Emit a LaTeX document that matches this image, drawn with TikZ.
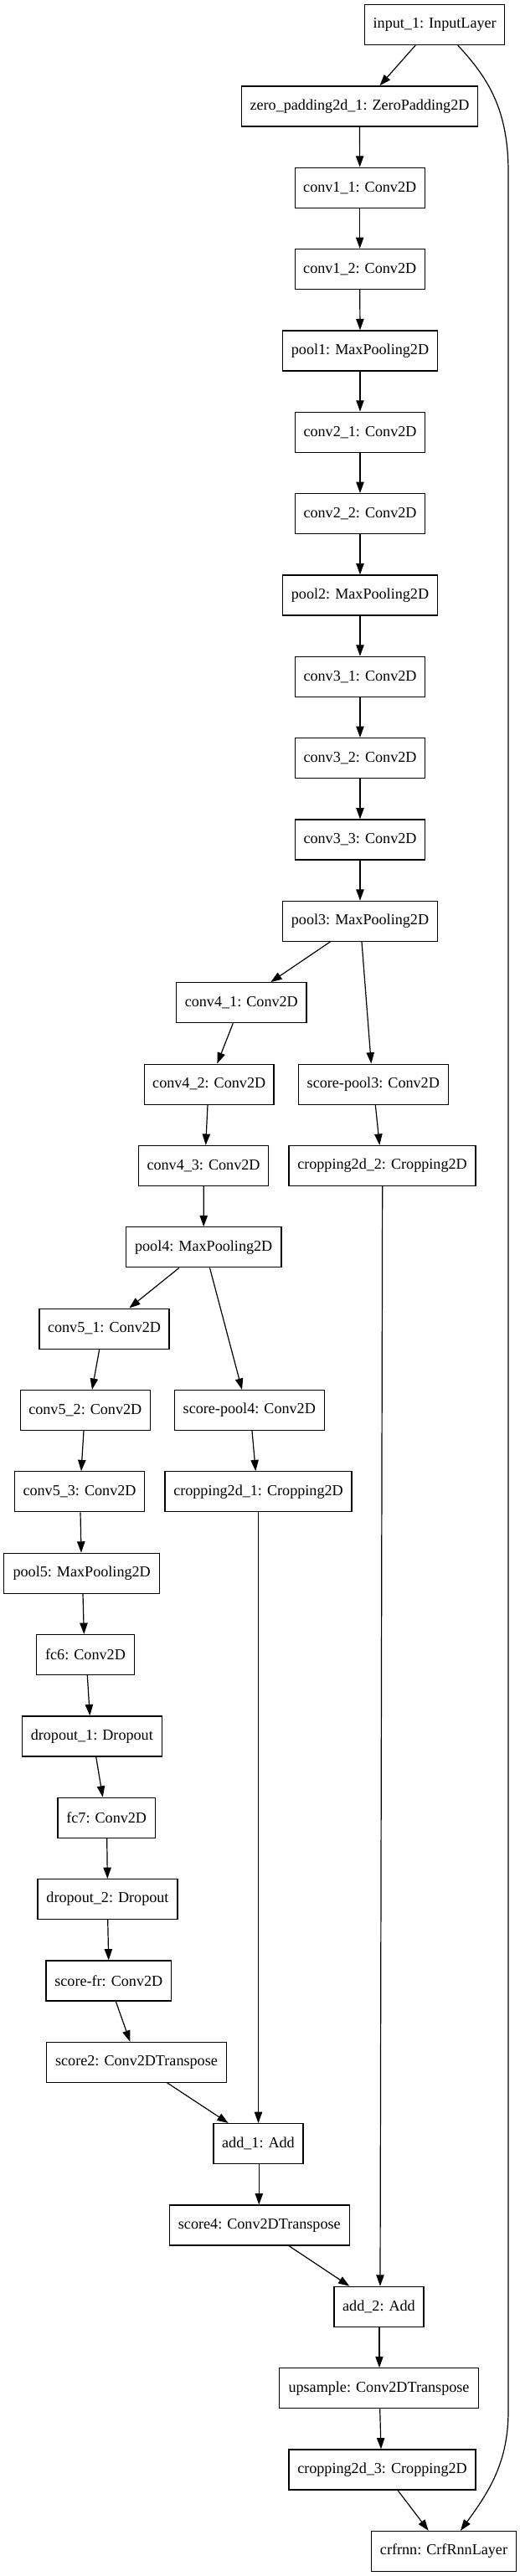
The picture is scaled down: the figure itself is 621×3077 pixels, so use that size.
\documentclass[tikz,border=0pt]{standalone}
\usepackage{fontspec}
\setmainfont{Liberation Serif}
\usetikzlibrary{arrows.meta,calc}
\newcommand\lnk[4]{\draw[arr] ($(#1.south)+(#2,0)$) -- ($(#3.north)+(#4,0)$);}
\begin{document}
\begin{tikzpicture}[x=0.75pt,y=-0.75pt,
  box/.style={draw=black,line width=0.9pt,rectangle,minimum height=36pt,inner xsep=2pt,inner ysep=0pt,font=\fontsize{13.6}{16}\selectfont},
  w/.style={minimum width=#1*0.75pt},
  arr/.style={draw=black,line width=0.9pt,-{Triangle[length=10pt,width=7pt]}}]
\useasboundingbox (0,0) rectangle (621,3077);
% nodes
\node[box,w=167]   (input) at (519.2,29.5)  {input\_1: InputLayer};
\node[box,w=281.6] (zero)  at (429.5,126.9) {zero\_padding2d\_1: ZeroPadding2D};
\node[box,w=155]   (c11)   at (429.7,224.2) {conv1\_1: Conv2D};
\node[box,w=155]   (c12)   at (429.7,321.5) {conv1\_2: Conv2D};
\node[box,w=185.4] (p1)    at (430,418.9)   {pool1: MaxPooling2D};
\node[box,w=155]   (c21)   at (430,516.2)   {conv2\_1: Conv2D};
\node[box,w=155]   (c22)   at (430,613.6)   {conv2\_2: Conv2D};
\node[box,w=185.4] (p2)    at (430,711)     {pool2: MaxPooling2D};
\node[box,w=155]   (c31)   at (430,808.3)   {conv3\_1: Conv2D};
\node[box,w=155]   (c32)   at (430,905.6)   {conv3\_2: Conv2D};
\node[box,w=155]   (c33)   at (430,1003)    {conv3\_3: Conv2D};
\node[box,w=185.7] (p3)    at (430,1100.4)  {pool3: MaxPooling2D};
\node[box,w=155.3] (c41)   at (288.3,1197.7) {conv4\_1: Conv2D};
\node[box,w=154.7] (c42)   at (249.7,1295.1) {conv4\_2: Conv2D};
\node[box,w=179]   (sp3)   at (445.8,1295.1) {score-pool3: Conv2D};
\node[box,w=155.3] (c43)   at (243,1392.4)  {conv4\_3: Conv2D};
\node[box,w=223]   (cr2)   at (456.5,1392.4) {cropping2d\_2: Cropping2D};
\node[box,w=185.7] (p4)    at (243.2,1489.8) {pool4: MaxPooling2D};
\node[box,w=155]   (c51)   at (124.5,1587.1) {conv5\_1: Conv2D};
\node[box,w=155]   (c52)   at (101.8,1684.5) {conv5\_2: Conv2D};
\node[box,w=179]   (sp4)   at (297.8,1684.5) {score-pool4: Conv2D};
\node[box,w=155.3] (c53)   at (95,1781.8)   {conv5\_3: Conv2D};
\node[box,w=223]   (cr1)   at (308.5,1781.8) {cropping2d\_1: Cropping2D};
\node[box,w=186]   (p5)    at (97.7,1879.2) {pool5: MaxPooling2D};
\node[box,w=116.7] (fc6)   at (102,1976.5)  {fc6: Conv2D};
\node[box,w=167]   (d1)    at (109.8,2073.9) {dropout\_1: Dropout};
\node[box,w=116.3] (fc7)   at (127.2,2171.3) {fc7: Conv2D};
\node[box,w=167]   (d2)    at (128.5,2268.6) {dropout\_2: Dropout};
\node[box,w=149.7] (sfr)   at (129.8,2366)  {score-fr: Conv2D};
\node[box,w=215.4] (s2)    at (163,2463.3)  {score2: Conv2DTranspose};
\node[box,w=107]   (a1)    at (308.5,2560.6) {add\_1: Add};
\node[box,w=215]   (s4)    at (309.8,2658)  {score4: Conv2DTranspose};
\node[box,w=107]   (a2)    at (452.5,2755.3) {add\_2: Add};
\node[box,w=237.6] (up)    at (452.5,2852.7) {upsample: Conv2DTranspose};
\node[box,w=223]   (cr3)   at (456.5,2950)  {cropping2d\_3: Cropping2D};
\node[box,w=172.6] (crf)   at (530,3047.4)  {crfrnn: CrfRnnLayer};
% bend points of the long connector
\coordinate (ctop) at (607,205);
\coordinate (cbot) at (607,2880);
% connectors
\lnk{input}{-23}{zero}{24}
\draw[arr] ($(input.south)+(27.5,0)$) .. controls (582,92) and (607,130) .. (ctop)
  -- (cbot) .. controls (607,2940) and (585,2975) .. ($(crf.north)+(20,0)$);
\lnk{zero}{0}{c11}{0}
\lnk{c11}{0}{c12}{0}
\lnk{c12}{0}{p1}{0}
\lnk{p1}{0}{c21}{0}
\lnk{c21}{0}{c22}{0}
\lnk{c22}{0}{p2}{0}
\lnk{p2}{0}{c31}{0}
\lnk{c31}{0}{c32}{0}
\lnk{c32}{0}{c33}{0}
\lnk{c33}{0}{p3}{0}
\lnk{p3}{-35.7}{c41}{35}
\lnk{p3}{2}{sp3}{-2.5}
\lnk{c41}{-10}{c42}{9.7}
\lnk{c42}{-1.7}{c43}{2.7}
\lnk{sp3}{2.5}{cr2}{-3.2}
\lnk{c43}{0.3}{p4}{0}
\lnk{cr2}{0.2}{a2}{1.5}
\lnk{p4}{-29.3}{c51}{29.8}
\lnk{p4}{7.3}{sp4}{-8.8}
\lnk{c51}{-5.8}{c52}{8.2}
\lnk{c52}{-1.8}{c53}{2}
\lnk{sp4}{3.2}{cr1}{-3.2}
\lnk{c53}{1}{p5}{-0.7}
\lnk{cr1}{0}{a1}{0}
\lnk{p5}{1.3}{fc6}{-1.7}
\lnk{fc6}{2.3}{d1}{-2.5}
\lnk{d1}{4.9}{fc7}{-4.5}
\lnk{fc7}{0.5}{d2}{-0.2}
\lnk{d2}{0.2}{sfr}{-0.1}
\lnk{sfr}{8.5}{s2}{-7.7}
\lnk{s2}{36.7}{a1}{-35.8}
\lnk{a1}{0.8}{s4}{-0.5}
\lnk{s4}{35.2}{a2}{-35.2}
\lnk{a2}{0.5}{up}{0.5}
\lnk{up}{1.2}{cr3}{-1.5}
\lnk{cr3}{18.5}{crf}{-18.3}
\end{tikzpicture}
\end{document}
